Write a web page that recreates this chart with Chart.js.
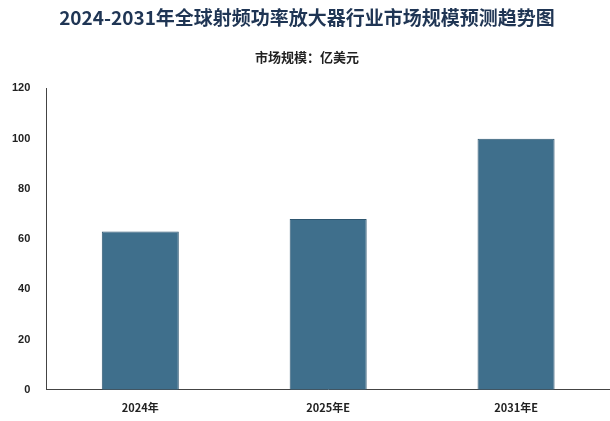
<!DOCTYPE html>
<html><head><meta charset="utf-8">
<script src="https://cdn.jsdelivr.net/npm/chart.js@4"></script>
<style>html,body{margin:0;padding:0;background:#fff}#w{width:610px;height:421px}</style>
</head><body><div id="w"><canvas id="c"></canvas></div>
<script>
const categories = ["2024年", "2025年E", "2031年E"];
const marketSize = [63, 68, 100];
const yTicks = [0, 20, 40, 60, 80, 100, 120];
new Chart(document.getElementById('c'), {
  type: 'bar',
  data: { labels: categories, datasets: [{ data: marketSize, backgroundColor: '#3f6f8c', borderColor: '#2e5670', borderWidth: 1, barPercentage: 0.41, categoryPercentage: 1 }] },
  options: {
    responsive: true, maintainAspectRatio: false, animation: false,
    layout: { padding: { left: 4, right: 0, top: 4, bottom: 4 } },
    plugins: {
      legend: { display: false },
      title: { display: true, text: '2024-2031年全球射频功率放大器行业市场规模预测趋势图', color: '#1f3554', font: { family: 'Noto Sans CJK SC', size: 19, weight: 'bold' }, padding: { top: 2, bottom: 20 } },
      subtitle: { display: true, text: '市场规模：亿美元', color: '#222', font: { family: 'Noto Sans CJK SC', size: 13, weight: 'bold' }, padding: { bottom: 24 } },
      tooltip: { enabled: false }
    },
    scales: {
      x: { grid: { display: false }, border: { color: '#444' }, ticks: { color: '#222', font: { family: 'Noto Sans CJK SC', size: 11, weight: 'bold' } } },
      y: { min: 0, max: 120, afterBuildTicks: a => { a.ticks = yTicks.map(v => ({ value: v })); }, grid: { display: false }, border: { color: '#444' }, ticks: { color: '#222', padding: 8, font: { family: 'Liberation Sans', size: 11, weight: 'bold' } } }
    }
  }
});
</script></body></html>
